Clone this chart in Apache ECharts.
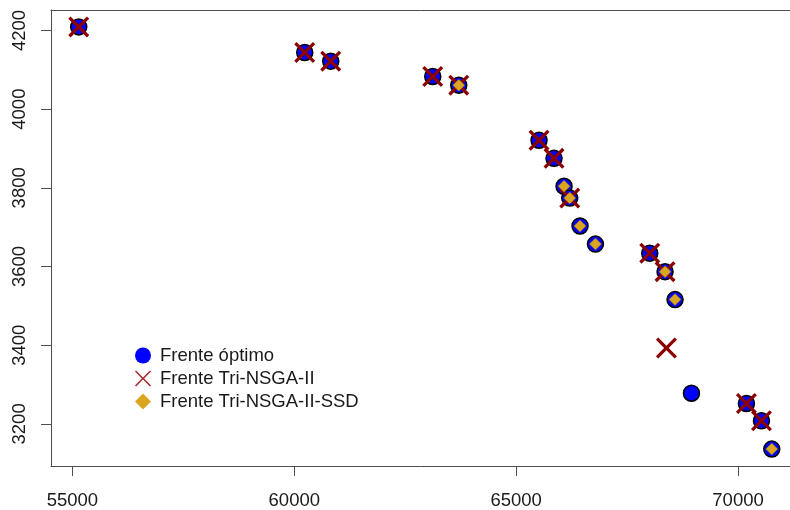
<!DOCTYPE html>
<html>
<head>
<meta charset="utf-8">
<script src="https://cdn.jsdelivr.net/npm/echarts@6/dist/echarts.min.js"></script>
<style>
html,body{margin:0;padding:0;background:#fff;}
#chart{width:790px;height:510px;}
</style>
</head>
<body>
<div id="chart"></div>
<script>
// Frente óptimo
const optX = [55142, 60235, 60821, 63120, 63706, 65515, 65853, 66079, 66207, 66439, 66786, 68010, 68355, 68580, 68950, 70189, 70528, 70760];
const optY = [4209, 4144, 4122, 4083, 4061, 3921, 3875, 3804, 3774, 3703, 3657, 3634, 3587, 3516, 3278, 3252, 3208, 3136];
// Frente Tri-NSGA-II
const nsgaX = [55142, 60235, 60821, 63120, 63706, 65515, 65853, 66207, 68010, 68355, 68386, 70189, 70528];
const nsgaY = [4209, 4144, 4122, 4083, 4061, 3921, 3875, 3774, 3634, 3587, 3393, 3252, 3208];
// Frente Tri-NSGA-II-SSD
const ssdX = [63706, 66079, 66207, 66439, 66786, 68355, 68580, 70760];
const ssdY = [4061, 3804, 3774, 3703, 3657, 3587, 3516, 3136];

const xTicks = [55000, 60000, 65000, 70000];
const yTicks = [3200, 3400, 3600, 3800, 4000, 4200];
const seriesNames = ['Frente óptimo', 'Frente Tri-NSGA-II', 'Frente Tri-NSGA-II-SSD'];

const zip = (a, b) => a.map((v, i) => [v, b[i]]);
const FONT = '"Liberation Sans", Arial, Helvetica, sans-serif';
const X_PATH = 'path://M0,11 L11,0 L50,39 L89,0 L100,11 L61,50 L100,89 L89,100 L50,61 L11,100 L0,89 L39,50 Z';
const X_THIN = 'path://M0,7 L7,0 L50,43 L93,0 L100,7 L57,50 L100,93 L93,100 L50,57 L7,100 L0,93 L43,50 Z';
const AXC = '#4d4d4d';
const plain = v => String(v);

const chart = echarts.init(document.getElementById('chart'), null, {renderer: 'canvas'});
chart.setOption({
  animation: false,
  backgroundColor: '#ffffff',
  textStyle: {fontFamily: FONT},
  grid: {left: 51, top: 10, right: 0, bottom: 41.7, show: false},
  xAxis: [{
    type: 'value', min: 54517, max: 71171,
    splitLine: {show: false},
    axisLine: {show: true, onZero: false, lineStyle: {color: AXC, width: 1}},
    axisTick: {show: true, customValues: xTicks, length: 10, inside: false, lineStyle: {color: AXC, width: 1}},
    axisLabel: {customValues: xTicks, formatter: plain, margin: 25, fontSize: 18.5, color: '#1a1a1a', fontFamily: FONT}
  }, {
    type: 'value', position: 'top', min: 54517, max: 71171,
    splitLine: {show: false},
    axisLine: {show: true, onZero: false, lineStyle: {color: AXC, width: 1}},
    axisTick: {show: false}, axisLabel: {show: false}
  }],
  yAxis: {
    type: 'value', min: 3093, max: 4252,
    splitLine: {show: false},
    axisLine: {show: true, onZero: false, lineStyle: {color: AXC, width: 1}},
    axisTick: {show: true, customValues: yTicks, length: 10, inside: false, lineStyle: {color: AXC, width: 1}},
    axisLabel: {customValues: yTicks, formatter: plain, rotate: 90, margin: 22, fontSize: 18.5, color: '#1a1a1a', fontFamily: FONT}
  },
  legend: {
    orient: 'vertical', left: 130, top: 341,
    itemWidth: 16, itemHeight: 16, itemGap: 4,
    textStyle: {fontSize: 18.5, color: '#1a1a1a', fontFamily: FONT, padding: [0, 0, 0, 4]},
    data: [
      {name: seriesNames[0], icon: 'circle', itemStyle: {color: '#0000ff', borderWidth: 0}},
      {name: seriesNames[1], icon: X_THIN, itemStyle: {color: '#a52a2a', borderWidth: 0}},
      {name: seriesNames[2], icon: 'diamond', itemStyle: {color: '#daa520', borderWidth: 0}}
    ]
  },
  series: [
    {
      name: seriesNames[0], type: 'scatter', data: zip(optX, optY), z: 2,
      symbol: 'circle', symbolSize: 16,
      itemStyle: {color: '#0000ff', borderColor: '#000000', borderWidth: 1.5, opacity: 1},
      emphasis: {disabled: true}
    },
    {
      name: seriesNames[1], type: 'scatter', data: zip(nsgaX, nsgaY), z: 3,
      symbol: X_PATH, symbolSize: 21,
      itemStyle: {color: '#8b0000', opacity: 1},
      emphasis: {disabled: true}
    },
    {
      name: seriesNames[2], type: 'scatter', data: zip(ssdX, ssdY), z: 4,
      symbol: 'diamond', symbolSize: 12,
      itemStyle: {color: '#daa520', borderColor: '#8a6a10', borderWidth: 0.5, opacity: 1},
      emphasis: {disabled: true}
    }
  ]
});
</script>
</body>
</html>
